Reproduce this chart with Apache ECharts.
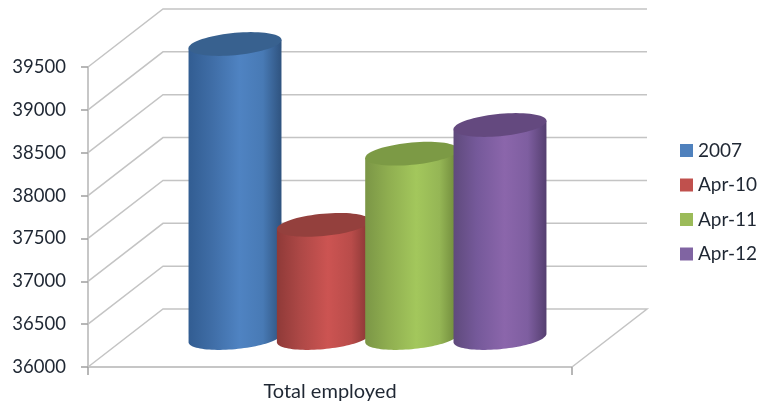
<!DOCTYPE html>
<html>
<head>
<meta charset="utf-8">
<style>html,body{margin:0;padding:0;background:#fff}#c{width:761px;height:407px}</style>
<script src="https://cdn.jsdelivr.net/npm/echarts@6/dist/echarts.min.js"></script>
</head>
<body>
<div id="c"></div>
<script>
const categories = ['Total employed'];
const seriesNames = ['2007', 'Apr-10', 'Apr-11', 'Apr-12'];
const employed2007 = [39430];
const employedApr10 = [37320];
const employedApr11 = [38150];
const employedApr12 = [38485];
const yTicks = [36000, 36500, 37000, 37500, 38000, 38500, 39000, 39500];

const legendColors = ['#4f81bd', '#c0504d', '#9bbb59', '#8064a2'];
const sideStops = [
  ['#325d92', '#3f6da6', '#4f83c2', '#487ab5', '#2f537f'],
  ['#8f3a38', '#ad4846', '#cc5452', '#b94c4a', '#853533'],
  ['#7b9646', '#8fae50', '#a3c75c', '#95b655', '#6c8539'],
  ['#5f4a7c', '#75599a', '#8b66ab', '#7e5ea0', '#553f70']
];
const topColors = ['#38618f', '#94403d', '#7c9a45', '#64497f'];

const DEPTH_X = 75, DEPTH_Y = 58;
const wallColor = '#c4c4c4';

const chart = echarts.init(document.getElementById('c'));

function ellipsePts(cx, cy, a, b, shear, t0, t1, n) {
  const pts = [];
  for (let k = 0; k <= n; k++) {
    const t = t0 + (t1 - t0) * k / n;
    pts.push([cx + a * Math.cos(t), cy + b * Math.sin(t) - shear * Math.cos(t)]);
  }
  return pts;
}

function cylinderSeries(name, data, idx) {
  return {
    name, type: 'custom', z: 5 + idx,
    itemStyle: { color: legendColors[idx] },
    encode: { x: 0, y: 1 },
    data: data.map((v, i) => [i, v]),
    renderItem(params, api) {
      const band = api.size([1, 0])[0];
      const base = api.coord([api.value(0), yTicks[0]]);
      const top = api.coord([api.value(0), api.value(1)]);
      const step = band * 0.1825;
      const cx = base[0] + DEPTH_X / 2 + (idx - 1.5) * step;
      const a = band * 0.096, b = a * 0.24, shear = a * 0.09;
      const yt = top[1] - DEPTH_Y / 2, yb = base[1] - DEPTH_Y / 2;
      const stops = sideStops[idx];
      const body = [[cx - a, yt + shear], [cx + a, yt - shear]]
        .concat(ellipsePts(cx, yb, a, b, shear, 0, Math.PI, 48));
      return {
        type: 'group',
        children: [
          {
            type: 'polygon',
            shape: { points: body },
            style: {
              fill: new echarts.graphic.LinearGradient(0, 0, 1, 0, [
                { offset: 0, color: stops[0] },
                { offset: 0.25, color: stops[1] },
                { offset: 0.55, color: stops[2] },
                { offset: 0.8, color: stops[3] },
                { offset: 1, color: stops[4] }
              ])
            }
          },
          {
            type: 'polygon',
            shape: { points: ellipsePts(cx, yt, a, b, shear, 0, Math.PI * 2, 72) },
            style: { fill: topColors[idx] }
          }
        ]
      };
    }
  };
}

const wallSeries = {
  type: 'custom', z: 1, silent: true,
  encode: { x: 0, y: 1 },
  data: yTicks.map(v => [0, v]),
  renderItem(params, api) {
    const band = api.size([1, 0])[0];
    const p = api.coord([0, api.value(1)]);
    const left = p[0] - band / 2, right = p[0] + band / 2, y = p[1];
    const pts = [[left, y], [left + DEPTH_X, y - DEPTH_Y], [right + DEPTH_X, y - DEPTH_Y]];
    if (params.dataIndex === 0) pts.push([right, y]);
    return {
      type: 'polyline',
      shape: { points: pts },
      style: { fill: 'none', stroke: wallColor, lineWidth: 1.5 }
    };
  }
};

const textColor = '#1f2733';
const fontFamily = 'Lato, sans-serif';

chart.setOption({
  animation: false,
  backgroundColor: '#ffffff',
  grid: { left: 88, right: 189, top: 67, bottom: 40 },
  legend: {
    orient: 'vertical', left: 680, top: 141, padding: 0,
    itemWidth: 13, itemHeight: 13, itemGap: 15.5,
    icon: 'rect', data: seriesNames,
    textStyle: { color: textColor, fontFamily, fontSize: 19 }
  },
  xAxis: {
    type: 'category', data: categories,
    axisLine: { lineStyle: { color: '#b4b4b4', width: 1.5 } },
    axisTick: { show: true, length: 8, lineStyle: { color: '#a0a0a0', width: 1.5 } },
    axisLabel: { color: textColor, fontFamily, fontSize: 20, margin: 15 }
  },
  yAxis: {
    type: 'value', min: 36000, max: 39500, interval: 500,
    splitLine: { show: false },
    axisLine: { show: true, lineStyle: { color: '#b4b4b4', width: 1.5 } },
    axisTick: { show: true, length: 7, lineStyle: { color: '#a0a0a0', width: 1.5 } },
    axisLabel: { color: textColor, fontFamily, fontSize: 18.5, margin: 22, padding: [0, 0, 4, 0], formatter: v => String(v) }
  },
  series: [
    wallSeries,
    cylinderSeries(seriesNames[0], employed2007, 0),
    cylinderSeries(seriesNames[1], employedApr10, 1),
    cylinderSeries(seriesNames[2], employedApr11, 2),
    cylinderSeries(seriesNames[3], employedApr12, 3)
  ]
});
</script>
</body>
</html>
